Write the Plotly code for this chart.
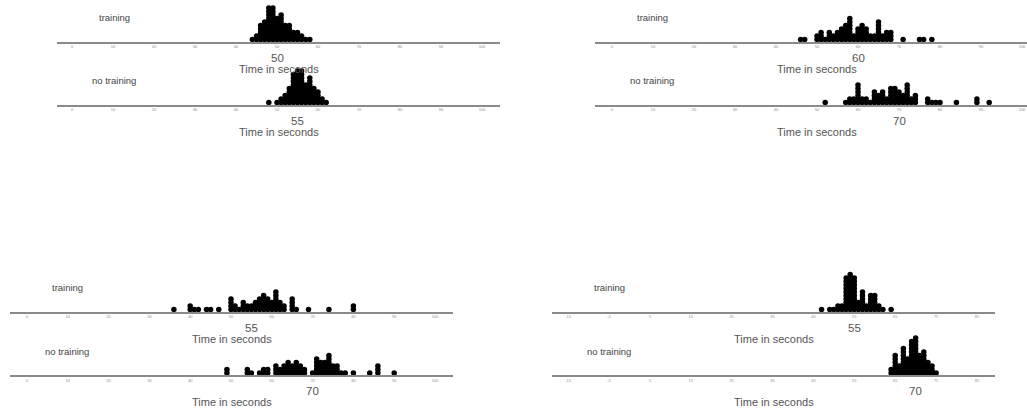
import plotly.graph_objects as go

# ---------------- data (seconds, binned to whole seconds) ----------------
tl_training_bins = list(range(44, 59))
tl_training_counts = [1, 2, 5, 6, 10, 10, 7, 8, 5, 5, 3, 3, 2, 1, 1]
tl_notraining_bins = list(range(48, 63))
tl_notraining_counts = [1, 0, 1, 2, 3, 5, 9, 10, 10, 6, 8, 5, 4, 2, 1]

tr_training_bins = [46, 47, 50, 51, 52, 53, 54, 55, 56, 57, 58, 59, 60, 61, 62, 63, 64, 65, 66, 67, 68, 71, 75, 76, 78]
tr_training_counts = [1, 1, 2, 3, 1, 3, 2, 3, 4, 5, 7, 2, 4, 5, 4, 2, 2, 6, 2, 3, 3, 1, 1, 1, 1]
tr_notraining_bins = [52, 57, 58, 59, 60, 61, 62, 63, 64, 65, 66, 67, 68, 69, 70, 71, 72, 73, 74, 77, 78, 79, 80, 84, 89, 92]
tr_notraining_counts = [1, 1, 2, 2, 6, 2, 2, 1, 4, 3, 4, 2, 5, 5, 4, 3, 6, 2, 3, 2, 1, 1, 1, 1, 2, 1]

bl_training_bins = [36, 40, 41, 42, 44, 45, 47, 50, 51, 52, 53, 54, 55, 56, 57, 58, 59, 60, 61, 62, 63, 65, 66, 69, 74, 80]
bl_training_counts = [1, 2, 1, 1, 1, 1, 1, 4, 2, 1, 3, 2, 2, 3, 4, 5, 4, 3, 6, 3, 2, 4, 1, 1, 1, 2]
bl_notraining_bins = [49, 54, 55, 57, 58, 59, 61, 62, 63, 64, 65, 66, 67, 68, 70, 71, 72, 73, 74, 75, 76, 77, 78, 80, 84, 86, 90]
bl_notraining_counts = [2, 2, 1, 1, 2, 2, 3, 2, 3, 4, 3, 4, 3, 2, 1, 5, 4, 4, 6, 3, 3, 1, 1, 1, 1, 3, 1]

br_training_bins = [47, 49, 50, 51, 52, 53, 54, 55, 56, 57, 58, 59, 60, 61, 62, 64]
br_training_counts = [1, 1, 1, 2, 2, 10, 11, 10, 3, 6, 2, 5, 5, 2, 1, 1]
br_notraining_bins = list(range(64, 76))
br_notraining_counts = [2, 6, 3, 8, 5, 10, 11, 6, 7, 4, 3, 1]

# group means shown under the red markers
tl_means = [50, 55]
tr_means = [60, 70]
bl_means = [55, 70]
br_means = [55, 70]

ticks_a = list(range(0, 101, 10))
ticks_b = list(range(-15, 86, 10))

group_labels = ["training", "no training"]
axis_title = "Time in seconds"

# ---------------- layout geometry (pixels) ----------------
W, H = 1027, 408
DOT_PX = 3.5  # vertical stacking step
panels = [
    dict(data=[(tl_training_bins, tl_training_counts), (tl_notraining_bins, tl_notraining_counts)],
         means=tl_means, ticks=ticks_a, tick0_px=72, ppu=4.1, left=57, right=500, lines=(41.7, 104.5)),
    dict(data=[(tr_training_bins, tr_training_counts), (tr_notraining_bins, tr_notraining_counts)],
         means=tr_means, ticks=ticks_a, tick0_px=612, ppu=4.1, left=595, right=1039, lines=(41.7, 104.5)),
    dict(data=[(bl_training_bins, bl_training_counts), (bl_notraining_bins, bl_notraining_counts)],
         means=bl_means, ticks=ticks_a, tick0_px=27, ppu=4.08, left=10, right=453, lines=(311.7, 375)),
    dict(data=[(br_training_bins, br_training_counts), (br_notraining_bins, br_notraining_counts)],
         means=br_means, ticks=ticks_b, tick0_px=568, ppu=4.09, left=552, right=995, lines=(311.7, 375)),
]

FONT = "Liberation Sans, Arial, sans-serif"
fig = go.Figure()
layout = dict(width=W, height=H, margin=dict(l=0, r=0, t=0, b=0), template="none",
              paper_bgcolor="white", plot_bgcolor="white", showlegend=False,
              font=dict(family=FONT, color="#555555"))
annotations = []
n = 0
for p in panels:
    t0 = p["ticks"][0]
    right = min(p["right"], W)
    xr = [t0 + (p["left"] - p["tick0_px"]) / p["ppu"], t0 + (right - p["tick0_px"]) / p["ppu"]]
    for gi, ((bins, counts), mean, line_y) in enumerate(zip(p["data"], p["means"], p["lines"])):
        n += 1
        xa = "xaxis" if n == 1 else f"xaxis{n}"
        ya = "yaxis" if n == 1 else f"yaxis{n}"
        xr_ref = "x" if n == 1 else f"x{n}"
        yr_ref = "y" if n == 1 else f"y{n}"
        top_px = max(line_y - 40, 0)
        ydom = [1 - line_y / H, 1 - top_px / H]
        yrange = [0, (line_y - top_px) / DOT_PX]
        layout[xa] = dict(domain=[p["left"] / W, right / W], range=xr, anchor=yr_ref,
                          showline=True, linecolor="#8a8a8a", linewidth=1.5,
                          showgrid=False, zeroline=False, ticks="",
                          tickvals=p["ticks"], ticktext=[str(v) for v in p["ticks"]],
                          tickfont=dict(size=4, color="#8a8a8a", family=FONT), fixedrange=True)
        layout[ya] = dict(domain=ydom, range=yrange, anchor=xr_ref, visible=False, fixedrange=True)
        xs, ys = [], []
        for b, c in zip(bins, counts):
            for k in range(c):
                xs.append(b)
                ys.append(k + 0.6)
        fig.add_trace(go.Scatter(x=xs, y=ys, mode="markers", xaxis=xr_ref, yaxis=yr_ref,
                                 marker=dict(symbol="circle", size=5.5, color="black", line=dict(width=0)),
                                 cliponaxis=False, hoverinfo="x"))
        fig.add_trace(go.Scatter(x=[mean], y=[-7 / DOT_PX], mode="markers", xaxis=xr_ref, yaxis=yr_ref,
                                 marker=dict(symbol="triangle-up", size=7, color="#e8141b", line=dict(width=0)),
                                 cliponaxis=False, hoverinfo="x"))
        annotations.append(dict(x=mean, y=1 - (line_y + 16) / H, xref=xr_ref, yref="paper",
                                text=str(mean), showarrow=False, xanchor="center", yanchor="middle",
                                font=dict(size=11.5, color="#555555", family=FONT)))
        annotations.append(dict(x=(p["left"] + p["right"]) / 2 / W, y=1 - (line_y + 27) / H,
                                xref="paper", yref="paper", text=axis_title, showarrow=False,
                                xanchor="center", yanchor="middle",
                                font=dict(size=11, color="#555555", family=FONT)))
        annotations.append(dict(x=(p["left"] + 57) / W, y=1 - (line_y - 24) / H,
                                xref="paper", yref="paper", text=group_labels[gi], showarrow=False,
                                xanchor="center", yanchor="middle",
                                font=dict(size=9.5, color="#444444", family=FONT)))

layout["annotations"] = annotations
fig.update_layout(**layout)
fig.write_html("out.html", config={"displayModeBar": False},
               post_script="document.body.style.margin='0px';")
